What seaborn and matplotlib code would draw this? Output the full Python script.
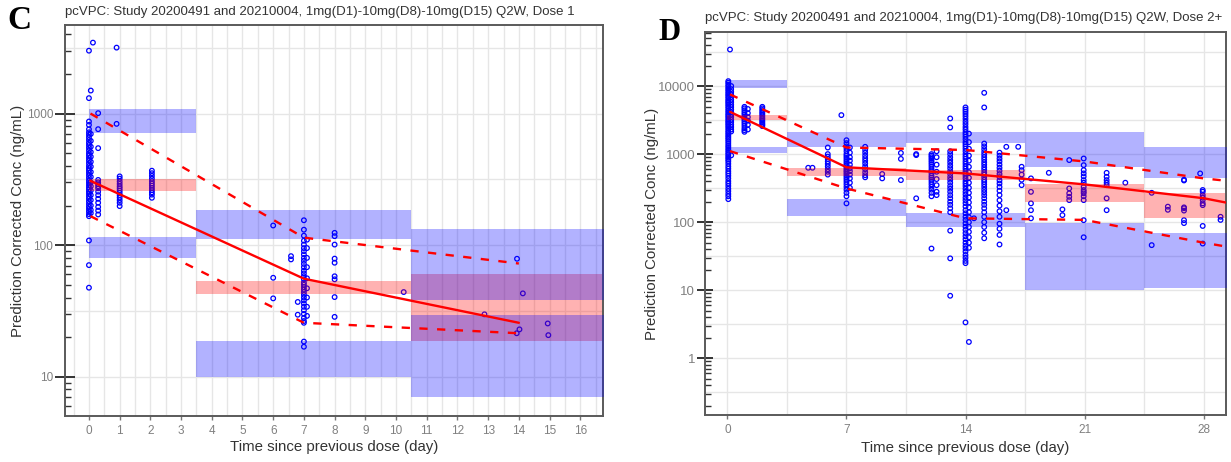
import matplotlib
matplotlib.use("Agg")
import matplotlib.pyplot as plt
import numpy as np
import pandas as pd
import seaborn as sns
from matplotlib.ticker import FixedLocator, LogLocator, NullFormatter

sns.set_theme(style="white")
plt.rcParams["font.family"] = ["Liberation Sans", "DejaVu Sans"]

# ---------------- Panel C data (Dose 1) ----------------
C_TITLE = "pcVPC: Study 20200491 and 20210004, 1mg(D1)-10mg(D8)-10mg(D15) Q2W, Dose 1"
C_XTICKS = list(range(0, 17))
C_YTICKS = [10, 100, 1000]
C_YTICKLABELS = ["10", "100", "1000"]

# observed points: (time, list of concentrations)
c_t000 = [3005, 1310, 870, 820, 760, 720, 690, 660, 630, 600, 575, 550, 525, 500, 480, 460, 440, 420,
          400, 385, 370, 355, 340, 325, 310, 298, 286, 275, 265, 255, 245, 235, 225, 215, 205, 196, 188,
          180, 172, 166, 108.5, 70.5, 47.5]
c_t006 = [1496, 700, 620, 560, 510, 470, 430, 395, 360, 330, 300, 280, 260, 240, 220, 200, 185, 175]
c_t013 = [3460]
c_t030 = [1007, 761, 546, 313, 300, 290, 280, 270, 255, 240, 225, 210, 195, 183, 171]
c_t090 = [3170, 835]
c_t100 = [333, 320, 305, 292, 280, 270, 260, 250, 240, 230, 220, 210, 198]
c_t205 = [368, 352, 336, 320, 306, 294, 283, 272, 262, 252, 242, 229]
c_t600 = [141, 56.5, 39.4]
c_t655 = [82.5, 77.9]
c_t680 = [29.6, 37]
c_t700 = [154.6, 131, 118, 108, 101, 95, 90, 85, 80, 76, 72, 68, 64, 61, 58, 55, 52, 50, 48, 46, 44, 42,
          40, 38, 36, 34, 32, 30, 28, 26.5, 25.7, 18.5, 16.9]
c_t710 = [110, 95, 80, 68, 56, 47, 40, 34, 29]
c_t800 = [124, 117, 101, 79, 73.5, 58, 55, 40.3, 28.5]
c_late_t = [10.25, 12.88, 13.94, 14.13, 14.02, 13.93, 14.94, 14.96]
c_late_v = [44, 29.8, 78.8, 43, 22.9, 21.4, 25.4, 20.7]
C_OBS = [(0.0, c_t000), (0.06, c_t006), (0.13, c_t013), (0.3, c_t030), (0.9, c_t090), (1.0, c_t100),
         (2.05, c_t205), (6.0, c_t600), (6.58, c_t655), (6.8, c_t680), (7.0, c_t700), (7.1, c_t710),
         (8.0, c_t800)] + [(t, [v]) for t, v in zip(c_late_t, c_late_v)]

# observed percentiles lines
C_LINE_T = [0.05, 7.0, 14.0]
C_OBS_P50 = [308, 55.6, 25.7]
C_OBS_P95 = [1000, 114, 72.5]
C_OBS_P05 = [166, 25.7, 21.4]

# simulated CI bands per bin
C_BIN_EDGES = [0, 3.5, 10.5, 17.5]
C_P95_LO = [710, 111.8, 38]
C_P95_HI = [1080, 184.5, 133]
C_P50_LO = [260, 42.3, 18.7]
C_P50_HI = [319, 53, 59.9]
C_P05_LO = [79.8, 10.0, 6.98]
C_P05_HI = [115, 18.8, 29.2]

# ---------------- Panel D data (Dose 2+) ----------------
D_TITLE = "pcVPC: Study 20200491 and 20210004, 1mg(D1)-10mg(D8)-10mg(D15) Q2W, Dose 2+"
D_XTICKS = [0, 7, 14, 21, 28]
D_YTICKS = [1, 10, 100, 1000, 10000]
D_YTICKLABELS = ["1", "10", "100", "1000", "10000"]

d_t005 = [11800, 11200, 10500, 9900, 9300, 8800, 8300, 7800, 7400, 7000, 6600, 6200, 5900, 5600, 5300,
          5000, 4700, 4400, 4150, 3900, 3700, 3500, 3300, 3100, 2950, 2800, 2650, 2500, 2350, 2200, 2080,
          1960, 1850, 1750, 1650, 1550, 1450, 1350, 1270, 1190, 1120, 1050, 990, 930, 880, 830, 780, 720,
          660, 610, 560, 520, 480, 440, 400, 370, 340, 310, 285, 260, 240, 218]
d_t015 = [34400]
d_t020 = [10000, 9000, 8200, 7500, 6900, 6300, 5800, 5300, 4900, 4500, 4100, 3800, 3500, 3200, 2950,
          2700, 2500, 2300, 2150, 958]
d_t100 = [4950, 4700, 4400, 4100, 3850, 3600, 3400, 3200, 3000, 2800, 2600, 2400, 2250, 2125]
d_t120 = [4600, 4000, 3500, 3100, 2700, 2300]
d_t205 = [4950, 4700, 4450, 4200, 4000, 3800, 3600, 3400, 3250, 3100, 2950, 2800, 2700, 2580]
d_t475 = [630]
d_t500 = [630]
d_t590 = [1250, 1000, 920, 850, 780, 720, 660, 600, 550, 500]
d_t670 = [3740]
d_t700 = [1600, 1450, 1300, 1200, 1100, 1000, 940, 880, 820, 770, 720, 680, 640, 600, 570, 540, 510,
          480, 450, 420, 390, 360, 330, 300, 270, 240, 189]
d_t720 = [1250, 1050, 900, 800, 700, 620, 560, 500, 440, 380, 320]
d_t810 = [1280, 1150, 1050, 950, 870, 800, 730, 660, 600, 540, 490, 456]
d_t910 = [510, 440]
d_t1020 = [1040, 850, 415]
d_t1110 = [1000, 967, 224]
d_t1200 = [1000, 950, 900, 850, 800, 750, 700, 650, 600, 560, 520, 480, 450, 420, 390, 360, 330, 300,
           270, 240, 41]
d_t1230 = [1100, 900, 700, 550, 430, 350, 280, 250]
d_t1310 = [3340, 2465, 1100, 1000, 900, 820, 750, 680, 620, 560, 510, 460, 420, 380, 340, 310, 280,
           250, 225, 200, 180, 160, 140, 75, 29.4, 8.3]
d_t1400 = [4850, 4500, 4200, 3900, 3600, 3300, 3000, 2750, 2500, 2300, 2100, 1950, 1800, 1650, 1500,
           1400, 1300, 1200, 1100, 1000, 920, 850, 780, 720, 660, 610, 560, 520, 480, 440, 400, 370, 340,
           310, 280, 255, 230, 210, 190, 170, 150, 135, 120, 108, 96, 86, 77, 69, 62, 56, 50, 45, 41, 37,
           33, 30, 27, 25, 3.37]
d_t1420 = [2000, 1500, 1200, 950, 800, 650, 540, 450, 380, 320, 270, 230, 195, 165, 140, 118, 100, 85,
           72, 60, 50, 42, 1.74]
d_t1450 = [114]
d_t1510 = [7950, 4850, 1430, 1300, 1180, 1070, 980, 900, 830, 760, 700, 640, 590, 540, 500, 460, 420,
           390, 360, 330, 300, 275, 250, 225, 200, 180, 160, 140, 120, 100, 85, 70, 58]
d_t1600 = [1050, 950, 860, 780, 700, 630, 570, 510, 460, 410, 370, 330, 290, 250, 210, 175, 145, 120,
           95, 80, 65, 47]
d_t1640 = [1280, 150]
d_t1710 = [1280]
d_t1730 = [652, 580, 500, 420, 350]
d_t1785 = [279, 189, 114, 440, 150]
d_t1890 = [531]
d_t1970 = [154, 127]
d_t2010 = [817, 313, 265, 236, 211]
d_t2095 = [862, 688, 582, 521, 470, 415, 380, 330, 297, 280, 265, 240, 211, 107, 60]
d_t2230 = [531, 464, 415, 380, 350, 224, 150]
d_t2340 = [380]
d_t2495 = [46, 270]
d_t2590 = [169, 152]
d_t2685 = [420, 410, 165, 160, 148, 107, 97]
d_t2780 = [520]
d_t2795 = [297, 280, 250, 230, 211, 189, 178, 88, 48.5]
d_t2900 = [120, 108]
D_OBS = [(0.05, d_t005), (0.15, d_t015), (0.22, d_t020), (1.0, d_t100), (1.2, d_t120), (2.05, d_t205),
         (4.75, d_t475), (5.0, d_t500), (5.9, d_t590), (6.7, d_t670), (7.0, d_t700), (7.2, d_t720),
         (8.1, d_t810), (9.1, d_t910), (10.2, d_t1020), (11.1, d_t1110), (12.0, d_t1200),
         (12.3, d_t1230), (13.1, d_t1310), (14.0, d_t1400), (14.2, d_t1420), (14.5, d_t1450),
         (15.1, d_t1510), (16.0, d_t1600), (16.4, d_t1640), (17.1, d_t1710), (17.3, d_t1730),
         (17.85, d_t1785), (18.9, d_t1890), (19.7, d_t1970), (20.1, d_t2010), (20.95, d_t2095),
         (22.3, d_t2230), (23.4, d_t2340), (24.95, d_t2495), (25.9, d_t2590), (26.85, d_t2685),
         (27.8, d_t2780), (27.95, d_t2795), (29.0, d_t2900)]

D_LINE_T = [0.15, 7.0, 14.0, 21.0, 28.0, 30.0]
D_OBS_P50 = [4180, 640, 520, 359, 225, 180]
D_OBS_P95 = [7530, 1250, 1150, 780, 440, 390]
D_OBS_P05 = [1107, 313, 114, 108, 50, 41]

D_BIN_EDGES = [0, 3.5, 10.5, 17.5, 24.5, 31.5]
D_P95_LO = [9220, 1280, 1466, 652, 449]
D_P95_HI = [12200, 2083, 2083, 2128, 1254]
D_P50_LO = [3155, 475, 410, 200, 114]
D_P50_HI = [3740, 617, 575, 359, 270]
D_P05_LO = [1024, 123, 84, 10.1, 10.7]
D_P05_HI = [1254, 216, 135, 98, 68.5]

XLABEL = "Time since previous dose (day)"
YLABEL = "Prediction Corrected Conc (ng/mL)"

BLUE = "#0000FF"
RED = "#FF0000"
GRID = "#E6E6E6"
SPINE = "#5A5A5A"
TICKLAB = "#808080"
TEXT = "#333333"


def to_frame(obs):
    rows = [(t, v) for t, vals in obs for v in vals]
    return pd.DataFrame(rows, columns=["time", "conc"])


def draw_panel(ax, obs, line_t, p50, p95, p05, edges, bands, xlim, ylim, xticks,
               yticks, yticklabels, vgrid, ytick_len, ytick_size):
    ax.set_yscale("log")
    ax.set_xlim(*xlim)
    ax.set_ylim(*ylim)
    # grid
    for xv in vgrid:
        ax.axvline(xv, color=GRID, lw=1.0, zorder=0)
    for k in range(-2, 12):
        yv = 10 ** (k / 2)
        if ylim[0] < yv < ylim[1]:
            ax.axhline(yv, color=GRID, lw=1.0, zorder=0)
    # observations
    df = to_frame(obs)
    sns.scatterplot(data=df, x="time", y="conc", ax=ax, marker="o", s=11,
                    facecolor="none", edgecolor=BLUE, linewidth=0.9, zorder=1, legend=False)
    # bands: median CI (red), then outer percentile CIs (blue)
    (p95lo, p95hi), (p50lo, p50hi), (p05lo, p05hi) = bands
    for i in range(len(edges) - 1):
        ax.fill_between([edges[i], edges[i + 1]], p50lo[i], p50hi[i], color=RED, alpha=0.3,
                        lw=0, zorder=2)
    for i in range(len(edges) - 1):
        ax.fill_between([edges[i], edges[i + 1]], p95lo[i], p95hi[i], color=BLUE, alpha=0.3,
                        lw=0, zorder=3)
        ax.fill_between([edges[i], edges[i + 1]], p05lo[i], p05hi[i], color=BLUE, alpha=0.3,
                        lw=0, zorder=3)
    # observed percentile lines
    sns.lineplot(x=line_t, y=p50, ax=ax, color=RED, lw=1.7, estimator=None, sort=False, zorder=4)
    sns.lineplot(x=line_t, y=p95, ax=ax, color=RED, lw=1.7, estimator=None, sort=False, zorder=4,
                 linestyle=(0, (3.5, 4)))
    sns.lineplot(x=line_t, y=p05, ax=ax, color=RED, lw=1.7, estimator=None, sort=False, zorder=4,
                 linestyle=(0, (3.5, 4)))
    ax.set_xlim(*xlim)
    ax.set_ylim(*ylim)

    ax.set_xticks(xticks)
    ax.set_xticklabels([str(x) for x in xticks])
    ax.yaxis.set_major_locator(FixedLocator(yticks))
    ax.set_yticklabels(yticklabels)
    ax.yaxis.set_minor_locator(LogLocator(base=10, subs=np.arange(2, 10)))
    ax.yaxis.set_minor_formatter(NullFormatter())
    ax.tick_params(axis="y", which="major", direction="inout", length=ytick_len, width=1.4,
                   color="#333333", labelsize=ytick_size, labelcolor=TICKLAB, pad=1, left=True)
    ax.tick_params(axis="y", which="minor", direction="in", length=4, width=1.0,
                   color="#333333", left=True)
    ax.tick_params(axis="x", which="major", direction="out", length=3, width=1.0,
                   color="#777777", labelsize=8.5, labelcolor=TICKLAB, pad=3.5, bottom=True)
    ax.tick_params(axis="x", which="minor", bottom=False)
    for sp in ax.spines.values():
        sp.set_visible(True)
        sp.set_color(SPINE)
        sp.set_linewidth(1.4)
    ax.set_xlabel(XLABEL, fontsize=10.8, color=TEXT, va="center")
    ax.set_ylabel(YLABEL, fontsize=10.8, color=TEXT, va="center")
    ax.grid(False)


fig = plt.figure(figsize=(12.31, 4.62), dpi=100)
axC = fig.add_axes([0.05280, 0.09957, 0.43729, 0.84632])
axD = fig.add_axes([0.57271, 0.10173, 0.42323, 0.82900])

draw_panel(axC, C_OBS, C_LINE_T, C_OBS_P50, C_OBS_P95, C_OBS_P05, C_BIN_EDGES,
           [(C_P95_LO, C_P95_HI), (C_P50_LO, C_P50_HI), (C_P05_LO, C_P05_HI)],
           (-0.78, 16.75), (5.03, 4710), C_XTICKS, C_YTICKS, C_YTICKLABELS,
           np.arange(-0.5, 17.0, 0.5), 15, 8.5)
draw_panel(axD, D_OBS, D_LINE_T, D_OBS_P50, D_OBS_P95, D_OBS_P05, D_BIN_EDGES,
           [(D_P95_LO, D_P95_HI), (D_P50_LO, D_P50_HI), (D_P05_LO, D_P05_HI)],
           (-1.32, 29.32), (0.147, 62200), D_XTICKS, D_YTICKS, D_YTICKLABELS,
           np.arange(0, 29, 3.5), 12, 9.5)

axC.yaxis.set_label_coords(-0.0873, 0.5)
axC.xaxis.set_label_coords(0.5, -0.0793)
axD.yaxis.set_label_coords(-0.1017, 0.5)
axD.xaxis.set_label_coords(0.5, -0.0862)

fig.text(0.0528, 0.974, C_TITLE, fontsize=9.5, color=TEXT, ha="left", va="center")
fig.text(0.5727, 0.962, D_TITLE, fontsize=9.5, color=TEXT, ha="left", va="center")
fig.text(0.0057, 0.955, "C", fontsize=24, fontweight="bold", family="Liberation Serif",
         color="black", ha="left", va="center")
fig.text(0.5345, 0.929, "D", fontsize=22, fontweight="bold", family="Liberation Serif",
         color="black", ha="left", va="center")

fig.savefig("out.png", dpi=100)
